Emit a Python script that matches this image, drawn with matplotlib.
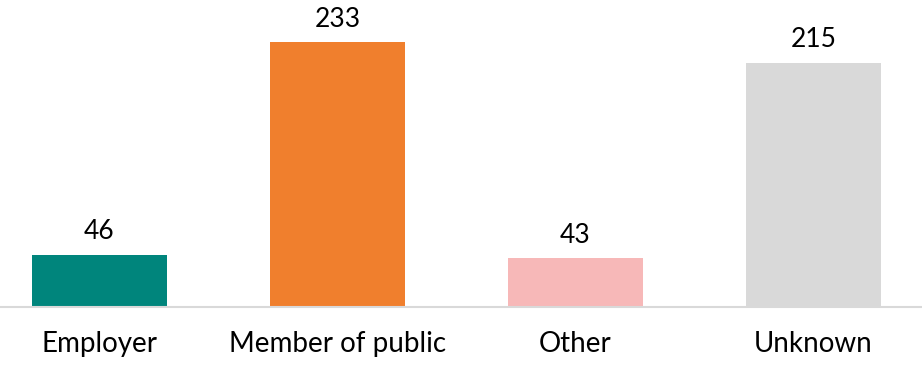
import matplotlib.pyplot as plt

categories = ["Employer", "Member of public", "Other", "Unknown"]
values = [46, 233, 43, 215]
colors = ["#00857C", "#F07F2D", "#F7B8B8", "#D9D9D9"]

plt.rcParams['font.family'] = ['Lato', 'DejaVu Sans']

fig = plt.figure(figsize=(9.22, 3.85), dpi=100)
# axes fills the full width, baseline at ~307 px from top
ax = fig.add_axes([0, 78 / 385, 1, 307 / 385])

x = list(range(len(categories)))
bars = ax.bar(x, values, width=0.567, color=colors)

for xi, v in zip(x, values):
    ax.text(xi, v + 9, str(v), ha="center", va="bottom", fontsize=19, color="#000000")

ax.set_xlim(-0.418, 3.456)
ax.set_ylim(0, 270)
ax.set_xticks(x)
ax.set_xticklabels(categories, fontsize=20)
ax.tick_params(axis="x", length=0, pad=17)
ax.set_yticks([])
for s in ["top", "right", "left"]:
    ax.spines[s].set_visible(False)
ax.spines["bottom"].set_color("#D9D9D9")
ax.spines["bottom"].set_linewidth(1.5)

fig.savefig("out.png", dpi=100)
